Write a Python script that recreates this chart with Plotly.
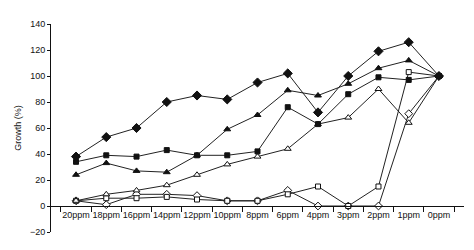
import plotly.graph_objects as go

categories = ["20ppm", "18ppm", "16ppm", "14ppm", "12ppm", "10ppm", "8ppm",
              "6ppm", "4ppm", "3ppm", "2ppm", "1ppm", "0ppm"]

filled_diamond = [38, 53, 60, 80, 85, 82, 95, 102, 72, 100, 119, 126, 100]
filled_triangle = [24, 33, 27, 26, 39, 59, 70, 89, 85, 94, 106, 112, 100]
filled_square = [34, 39, 38, 43, 39, 39, 42, 76, 63, 86, 99, 97, 100]
open_triangle = [4, 9, 12, 16, 24, 32, 38, 44, 63, 68, 90, 64, 100]
open_square = [4, 6, 6, 7, 5, 4, 4, 9, 15, 0, 15, 103, 100]
open_diamond = [4, 1, 9, 9, 8, 4, 4, 12, 0, 0, 0, 71, 100]

y_ticks = [-20, 0, 20, 40, 60, 80, 100, 120, 140]

FONT = "Liberation Sans, Arial"

series = [
    (open_diamond, "diamond", 6, "white"),
    (open_square, "square", 5, "white"),
    (open_triangle, "triangle-up", 6, "white"),
    (filled_square, "square", 5, "#111111"),
    (filled_triangle, "triangle-up", 6, "#111111"),
    (filled_diamond, "diamond", 7, "#111111"),
]

fig = go.Figure()
for vals, sym, sz, fill in series:
    fig.add_trace(go.Scatter(
        x=categories, y=vals, mode="lines+markers",
        line=dict(color="#222222", width=1),
        marker=dict(symbol=sym, size=sz, color=fill,
                    line=dict(color="#111111", width=1)),
        showlegend=False, cliponaxis=False,
    ))

fig.update_layout(
    width=474, height=250,
    margin=dict(l=51, r=10, t=24, b=18),
    plot_bgcolor="white", paper_bgcolor="white",
    font=dict(family=FONT, size=9, color="#111111"),
    showlegend=False,
    xaxis=dict(
        type="category", categoryorder="array", categoryarray=categories,
        anchor="free", position=0.125,
        showline=True, linecolor="#111111", linewidth=1,
        ticks="outside", ticklen=5, tickcolor="#111111", tickson="boundaries",
        tickangle=0,
        showgrid=False, zeroline=False,
        tickfont=dict(family=FONT, size=9, color="#111111"),
    ),
    yaxis=dict(
        range=[-20, 140], tickvals=y_ticks,
        showline=True, linecolor="#111111", linewidth=1,
        ticks="outside", ticklen=3, tickcolor="#111111",
        showgrid=False, zeroline=False,
        tickfont=dict(family=FONT, size=9, color="#111111"),
        title=dict(text="Growth (%)", font=dict(family=FONT, size=9, color="#111111"),
                   standoff=6),
    ),
)

fig.write_html("out.html")
